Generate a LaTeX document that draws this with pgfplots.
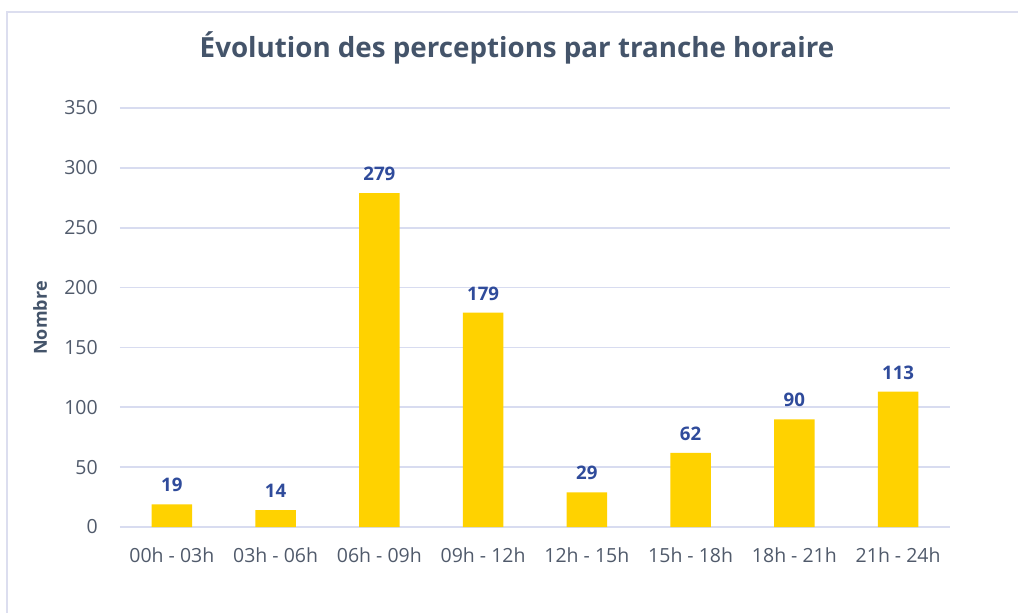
\documentclass[border=0pt]{standalone}
\usepackage{pgfplots}
\pgfplotsset{compat=1.18}
\usepackage{fontspec}
\setmainfont{Open Sans}
\definecolor{bary}{HTML}{FFD200}
\definecolor{lblblue}{HTML}{2F4B9B}
\definecolor{titlec}{HTML}{44546A}
\definecolor{tickc}{HTML}{505A6B}
\definecolor{gridc}{HTML}{D8DCF0}
\definecolor{framec}{HTML}{DCDEEF}
\begin{document}
\begin{tikzpicture}
\useasboundingbox (0,0) rectangle (763.5pt,459pt);
\fill[white] (0,0) rectangle (763.5pt,459pt);
\draw[framec, line width=1.1pt] (5.25pt,-5pt) -- (5.25pt,450pt) -- (770pt,450pt);
\node[anchor=base, text=titlec, font=\fontsize{20.8}{25}\selectfont\bfseries] at (387.75pt,415.5pt) {Évolution des perceptions par tranche horaire};
\node[rotate=90, text=titlec, font=\fontsize{13.5}{16}\selectfont\bfseries] at (30pt,220.5pt) {Nombre};
\begin{axis}[
  at={(90pt,63.75pt)}, anchor=south west,
  scale only axis, width=622.5pt, height=314.25pt,
  ybar, bar width=30.5pt,
  xmin=-0.5, xmax=7.5, ymin=0, ymax=350,
  enlargelimits=false,
  xtick=data,
  xticklabels={00h - 03h,03h - 06h,06h - 09h,09h - 12h,12h - 15h,15h - 18h,18h - 21h,21h - 24h},
  ytick={0,50,100,150,200,250,300,350},
  ymajorgrids, grid style={gridc, line width=1.3pt},
  axis line style={draw=none}, major tick length=0pt,
  /pgf/number format/assume math mode=true,
  tick label style={text=tickc, font=\fontsize{14.6}{17}\selectfont},
  xticklabel style={inner sep=0pt, anchor=north, yshift=-15pt},
  yticklabel style={inner sep=0pt, anchor=east, xshift=-16.5pt},
  nodes near coords,
  every node near coord/.append style={text=lblblue, font=\fontsize{14}{17}\selectfont\bfseries, inner sep=0pt, anchor=south, yshift=9pt},
]
\addplot[fill=bary, draw=none] coordinates {(0,19) (1,14) (2,279) (3,179) (4,29) (5,62) (6,90) (7,113)};
\end{axis}
\end{tikzpicture}
\end{document}
